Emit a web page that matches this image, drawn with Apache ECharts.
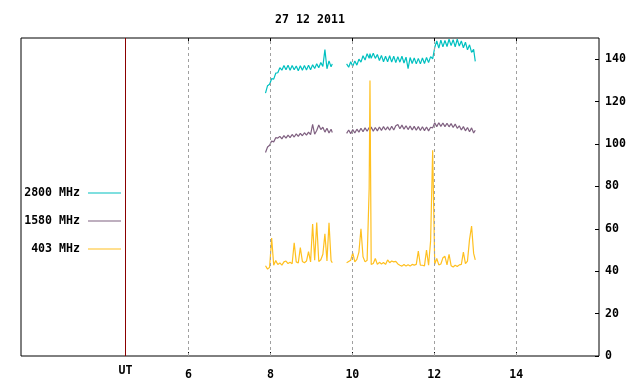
<!DOCTYPE html>
<html>
<head>
<meta charset="utf-8">
<script src="https://cdn.jsdelivr.net/npm/echarts@6/dist/echarts.min.js"></script>
<style>
  html, body { margin: 0; padding: 0; background: #fff; }
  #chart { width: 640px; height: 384px; }
</style>
</head>
<body>
<div id="chart"></div>
<script>
// ---- Data (hours UT, solar flux units) ----
const titleText = '27 12 2011';
const seriesNames = ['2800 MHz', '1580 MHz', '403 MHz'];
const xTicks = [6, 8, 10, 12, 14];
const yTicks = [0, 20, 40, 60, 80, 100, 120, 140];
const utHour = 4.463;
const utLabel = 'UT';

const times1 = [7.88, 7.93, 7.98, 8.03, 8.08, 8.13, 8.18, 8.23, 8.28, 8.33, 8.38, 8.43, 8.48, 8.53, 8.58, 8.63, 8.68, 8.73, 8.78, 8.83, 8.88, 8.93, 8.98, 9.03, 9.08, 9.13, 9.18, 9.23, 9.28, 9.33, 9.38, 9.43, 9.48, 9.51];
const times2 = [9.86, 9.91, 9.96, 10.01, 10.06, 10.11, 10.16, 10.21, 10.26, 10.31, 10.36, 10.41, 10.43, 10.46, 10.51, 10.56, 10.61, 10.66, 10.71, 10.76, 10.81, 10.86, 10.91, 10.96, 11.01, 11.06, 11.11, 11.16, 11.21, 11.26, 11.31, 11.36, 11.41, 11.46, 11.51, 11.56, 11.61, 11.66, 11.71, 11.76, 11.81, 11.86, 11.91, 11.96, 12.01, 12.06, 12.11, 12.16, 12.21, 12.26, 12.31, 12.36, 12.41, 12.46, 12.51, 12.56, 12.61, 12.66, 12.71, 12.76, 12.81, 12.86, 12.91, 12.96, 13.0];
const gapTime = 9.68;

const f2800a = [124, 127.5, 128.2, 130.8, 130.6, 133.4, 133.6, 136.0, 134.8, 137.0, 135.0, 137.2, 134.8, 137.0, 135.0, 136.8, 134.6, 136.9, 134.8, 137.0, 134.9, 137.2, 135.0, 137.4, 135.6, 137.8, 136.0, 138.4, 136.6, 144.5, 135.5, 139.2, 136.4, 137.8];
const f2800b = [137.8, 136.2, 138.8, 136.6, 139.2, 137.2, 140.0, 138.6, 141.6, 139.6, 142.6, 140.4, 142.6, 140.4, 142.8, 140.4, 142.2, 139.4, 141.8, 138.8, 141.4, 138.8, 141.6, 138.6, 141.4, 138.4, 141.2, 138.6, 141.4, 138.2, 141.0, 135.6, 140.8, 138.0, 140.6, 137.8, 140.4, 137.8, 140.6, 138.0, 140.8, 138.4, 141.2, 140.2, 145.5, 148.6, 145.2, 149.0, 145.8, 148.8, 146.0, 149.4, 146.4, 149.2, 145.8, 149.4, 146.2, 148.6, 145.4, 148.0, 144.4, 146.8, 143.2, 144.6, 139.0];

const f1580a = [96, 98.6, 99.4, 101.4, 101.0, 103.0, 102.8, 103.6, 102.4, 104.0, 102.8, 104.2, 103.0, 104.5, 103.3, 104.8, 103.6, 105.0, 103.9, 105.3, 104.2, 105.6, 104.4, 109.3, 104.6, 106.4, 109.0, 106.8, 107.9, 105.6, 107.4, 105.2, 107.0, 105.4];
const f1580b = [105.0, 106.6, 104.9, 106.8, 105.2, 107.0, 105.6, 107.4, 105.8, 107.6, 106.0, 107.8, 106.2, 108.0, 106.0, 107.8, 106.2, 108.0, 106.4, 108.2, 106.6, 108.1, 106.5, 108.4, 106.6, 108.6, 109.2, 107.2, 108.9, 107.0, 108.6, 106.8, 108.5, 106.6, 108.3, 106.5, 108.2, 106.4, 108.1, 106.3, 108.0, 106.2, 107.9, 107.6, 110.0, 108.2, 110.0, 108.3, 109.9, 108.2, 109.8, 108.1, 109.6, 107.8, 109.4, 107.4, 108.6, 106.6, 108.2, 106.2, 107.8, 105.8, 107.6, 105.2, 106.5];

const f403a = [42.6, 41, 41.8, 55.6, 42.8, 45, 43.2, 43.9, 42.9, 44.4, 44.8, 43.6, 44.2, 43.5, 53.4, 44.4, 43.9, 51.1, 44.6, 44.0, 44.8, 49.2, 44.4, 62.2, 45.2, 63, 44.6, 45.4, 48, 57.6, 44.8, 62.8, 45.0, 44];
const f403b = [44.0, 44.6, 45.2, 48.6, 44.4, 45.6, 49.0, 60.0, 46.8, 44.4, 45.2, 79.0, 130.0, 43.2, 43.6, 46.0, 43.2, 44.2, 43.4, 44.1, 43.2, 45.3, 44.0, 44.8, 44.4, 44.6, 43.4, 42.8, 42.4, 43.2, 42.4, 43.0, 42.4, 43.2, 42.9, 43.2, 49.5, 42.8, 42.8, 42.5, 50.0, 42.8, 54.3, 97.0, 43.2, 46.0, 43.0, 43.4, 46.3, 47.0, 43.0, 48.0, 42.6, 42.0, 42.8, 42.2, 43.0, 43.2, 49.0, 43.6, 44.8, 55.0, 61.3, 48.4, 45.3];

const colors = ['#00c0c0', '#7f6080', '#ffc020'];

function build(a, b) {
  const out = times1.map((t, i) => [t, a[i]]);
  out.push([gapTime, '-']);
  times2.forEach((t, i) => out.push([t, b[i]]));
  return out;
}
const dataSets = [build(f2800a, f2800b), build(f1580a, f1580b), build(f403a, f403b)];

const font = 'DejaVu Sans Mono';
const fs = 11.6;

const chart = echarts.init(document.getElementById('chart'), null, { renderer: 'canvas' });
const xMin = 1.912, xMax = 16.02;

const series = [{
  type: 'line', name: '_grid', data: [], z: 1, silent: true,
  markLine: {
    silent: true, symbol: ['none', 'none'], animation: false,
    label: { show: false },
    lineStyle: { color: '#a0a0a0', type: [3, 3], width: 1 },
    data: xTicks.map(v => ({ xAxis: v }))
  }
}, {
  type: 'line', name: '_ut', data: [], z: 1, silent: true,
  markLine: {
    silent: true, symbol: ['none', 'none'], animation: false,
    label: { show: true, position: 'start', formatter: utLabel, distance: 9,
             fontFamily: font, fontSize: fs, fontWeight: 'bold', color: '#000' },
    lineStyle: { color: '#8b0000', type: 'solid', width: 1 },
    data: [{ xAxis: utHour }]
  }
}];
seriesNames.forEach((n, i) => series.push({
  type: 'line', name: n, data: dataSets[i], z: 2 + i,
  showSymbol: false, symbol: 'none', connectNulls: false, sampling: null,
  lineStyle: { width: 1.2, color: colors[i] }, itemStyle: { color: colors[i] },
  emphasis: { disabled: true }
}));

chart.setOption({
  animation: false,
  backgroundColor: '#fff',
  title: {
    text: titleText, left: 305, top: 9, textAlign: 'center',
    textStyle: { fontFamily: font, fontSize: fs, fontWeight: 'bold', color: '#000' }
  },
  legend: {
    data: seriesNames, orient: 'vertical', left: 19, top: 181,
    align: 'right', icon: 'rect', itemWidth: 33, itemHeight: 1.2, itemGap: 14,
    textStyle: { fontFamily: font, fontSize: fs, fontWeight: 'bold', color: '#000',
                 width: 56, align: 'right', padding: [0, 3, 0, 0], lineHeight: 14 },
    selectedMode: false
  },
  grid: { left: 21, right: 41, top: 38, bottom: 28, show: true, borderColor: '#000', borderWidth: 1, backgroundColor: 'transparent' },
  xAxis: [{
    type: 'value', min: xMin, max: xMax, position: 'bottom',
    axisLine: { show: false }, splitLine: { show: false },
    axisTick: { show: true, inside: true, length: 4, customValues: xTicks, lineStyle: { color: '#000' } },
    axisLabel: { customValues: xTicks, margin: 13, fontFamily: font, fontSize: fs, fontWeight: 'bold', color: '#000' }
  }, {
    type: 'value', min: xMin, max: xMax, position: 'top',
    axisLine: { show: false }, splitLine: { show: false },
    axisTick: { show: true, inside: true, length: 4, customValues: xTicks, lineStyle: { color: '#000' } },
    axisLabel: { show: false }
  }],
  yAxis: {
    type: 'value', min: 0, max: 150, position: 'right',
    axisLine: { show: false }, splitLine: { show: false },
    axisTick: { show: true, inside: true, length: 4, customValues: yTicks, lineStyle: { color: '#000' } },
    axisLabel: { customValues: yTicks, margin: 6, fontFamily: font, fontSize: fs, fontWeight: 'bold', color: '#000' }
  },
  series: series
});
</script>
</body>
</html>
